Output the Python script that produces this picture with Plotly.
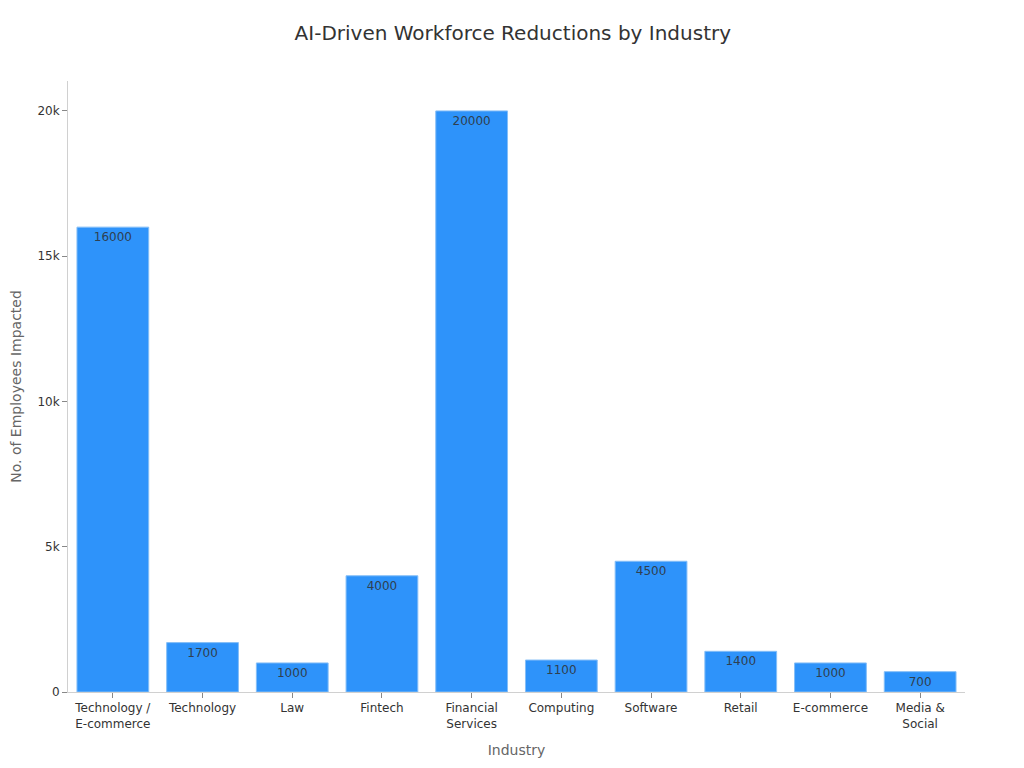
import plotly.graph_objects as go

categories = ["Technology /<br>E-commerce", "Technology", "Law", "Fintech", "Financial<br>Services",
              "Computing", "Software", "Retail", "E-commerce", "Media &<br>Social"]
employees = [16000, 1700, 1000, 4000, 20000, 1100, 4500, 1400, 1000, 700]

fig = go.Figure(go.Bar(
    x=categories, y=employees,
    text=[str(v) for v in employees],
    textposition="inside", insidetextanchor="end",
    textfont=dict(family="DejaVu Sans", size=12, color="#2f4050"),
    marker=dict(color="#2E93FA", line=dict(color="#85BEF7", width=1)),
    width=0.8,
))

fig.update_layout(
    width=1024, height=768,
    paper_bgcolor="white", plot_bgcolor="white",
    font=dict(family="DejaVu Sans", color="#333333"),
    title=dict(text="AI-Driven Workforce Reductions by Industry", x=0.493, xanchor="center",
               y=0.9674, yanchor="middle", font=dict(size=20, color="#333333")),
    margin=dict(l=60, r=67, t=73, b=84, autoexpand=False),
    showlegend=False,
    bargap=0.2,
)
fig.update_xaxes(
    title=dict(text="Industry", font=dict(size=14, color="#666666"), standoff=15),
    showline=True, linecolor="#D0D0D0", linewidth=1,
    ticks="outside", ticklen=5, tickcolor="#888888",
    tickfont=dict(size=12, color="#333333"), showgrid=False, automargin=False,
)
fig.update_yaxes(
    title=dict(text="No. of Employees Impacted", font=dict(size=14, color="#666666")),
    range=[0, 21030], dtick=5000, tickformat="~s",
    showline=True, linecolor="#D0D0D0", linewidth=1,
    ticks="outside", ticklen=5, tickcolor="#888888",
    tickfont=dict(size=12, color="#333333"), showgrid=False, zeroline=False, automargin=False,
)

fig.write_html("out.html")
